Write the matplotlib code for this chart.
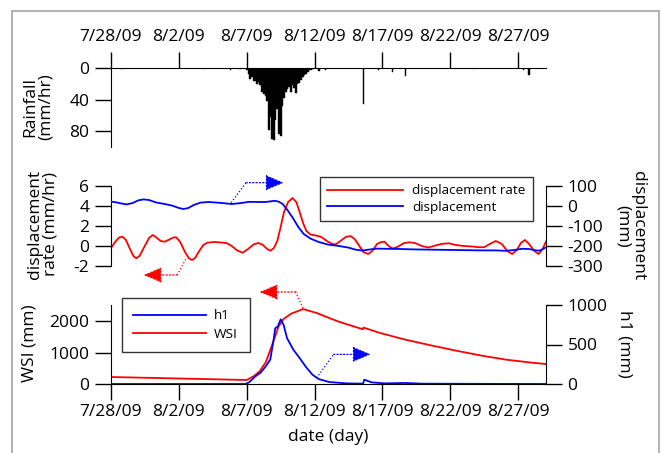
import numpy as np
import matplotlib
matplotlib.use("Agg")
import matplotlib.pyplot as plt
from matplotlib.patches import Rectangle

plt.rcParams['font.family'] = ['Open Sans', 'DejaVu Sans']
plt.rcParams['axes.unicode_minus'] = False

# x values are days after 7/28/09 00:00
date_ticks = [0, 5, 10, 15, 20, 25, 30]
date_labels = ['7/28/09', '8/2/09', '8/7/09', '8/12/09', '8/17/09', '8/22/09', '8/27/09']
x_end = 32.05

# rainfall (mm/hr)
rain_day = [0.8, 6.9, 8.8, 9.5,
            10.0, 10.125, 10.25, 10.375, 10.5, 10.625, 10.75, 10.875,
            11.0, 11.125, 11.25, 11.375, 11.5, 11.625, 11.75, 11.875,
            12.0, 12.125, 12.25, 12.375, 12.5, 12.625, 12.75, 12.875,
            13.0, 13.125, 13.25, 13.375, 13.5, 13.625, 13.75, 13.875,
            14.0, 14.125, 14.25, 14.375, 14.5, 14.625, 14.75, 14.875,
            15.3, 15.8, 18.6, 19.7, 20.75, 21.7, 26.7, 30.4, 30.8]
rain_val = [1, 1.5, 2, 1,
            3, 8, 14, 12, 17, 16, 20, 18,
            22, 30, 33, 36, 42, 78, 62, 90,
            91, 66, 52, 84, 86, 48, 38, 30,
            26, 24, 31, 22, 25, 32, 20, 19,
            15, 12, 9, 7, 5, 3, 2, 1,
            4, 3, 46, 2, 5, 10, 1, 2, 9]

# displacement rate (mm/hr)
rate_day = [0.0, 0.3, 0.6, 0.85, 1.1, 1.4, 1.65, 1.85, 2.1, 2.45, 2.8, 3.08, 3.35,
            3.65, 3.95, 4.3, 4.6, 4.8, 5.1, 5.45, 5.75, 5.97, 6.2, 6.5, 6.8, 7.1,
            7.6, 8.1, 8.5, 8.9, 9.3, 9.7, 10.1, 10.5, 10.85, 11.15, 11.5, 11.75,
            12.0, 12.25, 12.5, 12.75, 13.05, 13.37, 13.65, 13.9, 14.15, 14.4, 14.7,
            15.1, 15.5, 15.9, 16.3, 16.55, 16.9, 17.3, 17.64, 17.95, 18.3, 18.6,
            18.94, 19.25, 19.6, 19.9, 20.15, 20.45, 20.75, 21.1, 21.6, 22.0, 22.4,
            22.9, 23.4, 23.9, 24.4, 24.9, 25.4, 26.0, 26.6, 27.1, 27.5, 27.9, 28.35,
            28.8, 29.2, 29.55, 29.9, 30.2, 30.5, 30.8, 31.2, 31.5, 31.8, 32.05]
rate_val = [-0.2, 0.4, 0.85, 0.93, 0.6, -0.3, -1.0, -1.23, -1.0, -0.1, 0.8, 1.1, 0.85,
            0.5, 0.43, 0.65, 0.85, 0.87, 0.4, -0.6, -1.25, -1.4, -1.2, -0.5, 0.1, 0.33,
            0.4, 0.35, 0.3, 0.0, -0.45, -0.67, -0.3, 0.15, 0.3, 0.15, -0.3, -0.47,
            -0.2, 0.5, 1.9, 3.4, 4.4, 4.8, 4.4, 3.4, 2.3, 1.5, 1.15,
            1.05, 0.9, 0.5, 0.2, 0.15, 0.5, 0.9, 1.0, 0.7, 0.0, -0.6,
            -0.8, -0.5, 0.2, 0.4, 0.43, 0.0, -0.25, -0.1, 0.3, 0.37, 0.3,
            0.0, -0.15, 0.05, 0.22, 0.27, 0.1, 0.0, -0.05, -0.12, -0.12, 0.2, 0.5,
            0.2, -0.5, -0.8, -0.4, 0.3, 0.6, 0.2, -0.5, -0.8, -0.3, 0.45]

# displacement (mm)
disp_day = [0, 0.4, 0.8, 1.15, 1.6, 2.0, 2.4, 2.8, 3.3, 3.95, 4.5, 5.0, 5.35, 5.7,
            6.1, 6.6, 7.2, 8.0, 8.9, 9.5, 10.2, 10.8, 11.4, 12.04, 12.35, 12.65,
            13.0, 13.4, 13.8, 14.2, 14.7, 15.3, 16.0, 16.8, 17.5, 18.0, 18.5, 19.0,
            19.6, 20.3, 21.3, 22.3, 23.3, 24.3, 25.3, 26.3, 27.3, 28.3, 29.1, 29.7,
            30.3, 30.8, 31.3, 31.6, 32.05]
disp_val = [22, 18, 12, 8, 15, 28, 33, 30, 18, 10, 2, -10, -15, -10,
            5, 17, 20, 16, 10, 14, 21, 20, 20, 26, 22, 10,
            -20, -60, -105, -140, -163, -180, -193, -200, -208, -218, -223, -218,
            -213, -214, -215, -217, -218, -219, -220, -221, -222, -222, -224, -220,
            -214, -215, -222, -223, -207]

# WSI (mm)
wsi_day = [0, 10.0, 10.5, 10.95, 11.4, 11.88, 12.35, 12.72, 13.28, 14.15, 15.15,
           16.7, 18.55, 18.6, 19.8, 21.68, 23.55, 25.4, 27.3, 29.1, 31.0, 32.05]
wsi_val = [223, 128, 245, 404, 690, 1255, 1840, 2075, 2245, 2390, 2265,
           2000, 1745, 1800, 1630, 1415, 1235, 1065, 905, 777, 680, 638]

# h1 (mm)
h1_day = [0, 9.9, 10.17, 10.64, 11.04, 11.4, 11.73, 11.98, 12.1, 12.29, 12.5,
          12.72, 12.97, 13.44, 13.9, 14.37, 14.84, 15.3, 16.08, 17.33, 18.57,
          18.66, 19.19, 20.12, 21.68, 22.9, 32.05]
h1_val = [0, 0, 21, 97, 147, 223, 307, 559, 706, 727, 819,
          748, 580, 433, 328, 214, 118, 63, 25, 8, 4,
          55, 21, 8, 13, 4, 0]

fig = plt.figure(figsize=(6.62, 4.53), dpi=100)
W, H = 662.0, 453.0
x0, x1 = 111, 546

def box(top, bottom):
    return [x0 / W, 1 - bottom / H, (x1 - x0) / W, (bottom - top) / H]

fs = 12.5
lfs = 9.7
tick_kw = dict(length=11.5, width=1.0, labelsize=fs)
head = '-|>,head_length=0.7,head_width=0.3'

def arrow(ax, pts, color):
    # dotted leader line, then a dotted shaft ending in a filled head
    (xa, ya), (xb, yb), (xc, yc) = pts
    ax.plot([xa, xb], [ya, yb], ls=':', color=color, lw=0.9, clip_on=False)
    ax.annotate('', xy=(xc, yc), xytext=(xb, yb),
                arrowprops=dict(arrowstyle=head, ls=':', color=color, lw=0.9,
                                mutation_scale=16, shrinkA=0, shrinkB=0),
                annotation_clip=False)

# ---- rainfall
ax1 = fig.add_axes(box(68, 147))
ax1.bar(rain_day, rain_val, width=0.125, color='black', edgecolor='black', linewidth=0.3)
ax1.set_xlim(0, x_end)
ax1.set_ylim(100, 0)
ax1.set_yticks([0, 40, 80])
for s in ['right', 'bottom']:
    ax1.spines[s].set_visible(False)
ax1.xaxis.tick_top()
ax1.set_xticks(date_ticks)
ax1.set_xticklabels(date_labels)
ax1.tick_params(axis='x', pad=5, **tick_kw)
ax1.tick_params(axis='y', pad=4, **tick_kw)
ax1.patch.set_visible(False)

# ---- displacement
ax2 = fig.add_axes(box(186, 266))
ax2b = ax2.twinx()
l_disp, = ax2b.plot(disp_day, disp_val, color='blue', lw=1.3)
l_rate, = ax2.plot(rate_day, rate_val, color='red', lw=1.3)
ax2.set_xlim(0, x_end)
ax2.set_ylim(-2, 6)
ax2b.set_ylim(-300, 100)
ax2.set_yticks([-2, 0, 2, 4, 6])
ax2b.set_yticks([-300, -200, -100, 0, 100])
for a in (ax2, ax2b):
    for s in ['top', 'bottom']:
        a.spines[s].set_visible(False)
    a.set_xticks([])
    a.tick_params(axis='y', pad=4, **tick_kw)
    a.patch.set_visible(False)
ax2b.spines['left'].set_visible(False)
ax2.spines['right'].set_visible(False)
leg = ax2b.legend([l_rate, l_disp], ['displacement rate', 'displacement'],
                  loc='upper left', bbox_to_anchor=(320 / W, 1 - 177 / H),
                  bbox_transform=fig.transFigure, fontsize=lfs, frameon=True,
                  fancybox=False, handlelength=5.6, borderaxespad=0,
                  handletextpad=0.7, labelspacing=0.25, borderpad=0.55)
leg.get_frame().set_edgecolor('black')
leg.get_frame().set_linewidth(1.0)

arrow(ax2, [(8.86, 4.33), (9.95, 6.33), (12.72, 6.33)], 'blue')
arrow(ax2, [(5.5, -1.33), (4.88, -2.9), (2.4, -2.9)], 'red')

# ---- WSI / h1
ax3 = fig.add_axes(box(305, 384))
ax3b = ax3.twinx()
l_wsi, = ax3.plot(wsi_day, wsi_val, color='red', lw=1.3)
l_h1, = ax3b.plot(h1_day, h1_val, color='blue', lw=1.3)
ax3.set_xlim(0, x_end)
ax3.set_ylim(0, 2520)
ax3b.set_ylim(0, 1000)
ax3.set_yticks([0, 1000, 2000])
ax3b.set_yticks([0, 500, 1000])
ax3.set_xticks(date_ticks)
ax3.set_xticklabels(date_labels)
ax3.tick_params(axis='x', pad=3, **tick_kw)
for a in (ax3, ax3b):
    a.spines['top'].set_visible(False)
    a.tick_params(axis='y', pad=4, **tick_kw)
    a.patch.set_visible(False)
ax3b.spines['left'].set_visible(False)
ax3b.spines['bottom'].set_visible(False)
ax3.spines['right'].set_visible(False)
leg2 = ax3b.legend([l_h1, l_wsi], ['h1', 'WSI'],
                   loc='upper left', bbox_to_anchor=(122 / W, 1 - 298 / H),
                   bbox_transform=fig.transFigure, fontsize=lfs, frameon=True,
                   fancybox=False, handlelength=5.4, borderaxespad=0,
                   handletextpad=0.6, labelspacing=0.4, borderpad=0.85)
leg2.get_frame().set_edgecolor('black')
leg2.get_frame().set_linewidth(1.0)

arrow(ax3, [(14.15, 2420), (13.6, 2935), (10.95, 2935)], 'red')
arrow(ax3, [(15.15, 194), (16.4, 946), (19.13, 946)], 'blue')

# ---- axis titles
fig.text(38 / W, 1 - 107 / H, 'Rainfall\n(mm/hr)', rotation=90, ha='center', va='center',
         fontsize=fs, linespacing=0.95)
fig.text(43 / W, 1 - 224 / H, 'displacement\nrate (mm/hr)', rotation=90, ha='center',
         va='center', fontsize=fs, linespacing=0.95)
fig.text(30 / W, 1 - 343 / H, 'WSI (mm)', rotation=90, ha='center', va='center', fontsize=fs)
fig.text(630 / W, 1 - 226 / H, 'displacement\n(mm)', rotation=270, ha='center',
         va='center', fontsize=fs, linespacing=0.95)
fig.text(625 / W, 1 - 344 / H, 'h1 (mm)', rotation=270, ha='center', va='center', fontsize=fs)
fig.text(328 / W, 1 - 437 / H, 'date (day)', ha='center', va='center', fontsize=fs)

# grey frame around the figure
fig.patches.append(Rectangle((12 / W, -0.1), (659 - 12) / W, 1 - 11 / H + 0.1,
                             transform=fig.transFigure, fill=False,
                             edgecolor='#b4b4b4', linewidth=1.5))

fig.savefig('out.png', dpi=100)
